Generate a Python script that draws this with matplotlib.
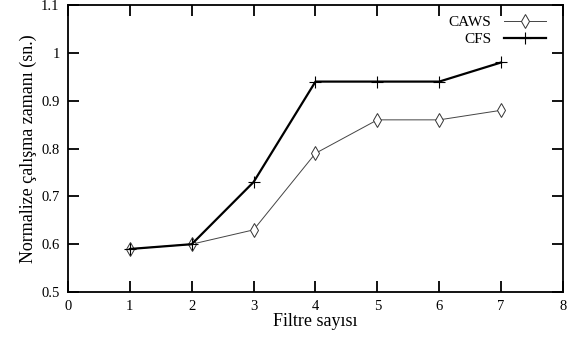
import matplotlib.pyplot as plt

filtre = [1, 2, 3, 4, 5, 6, 7]
caws = [0.59, 0.60, 0.63, 0.79, 0.86, 0.86, 0.88]
cfs = [0.59, 0.60, 0.73, 0.94, 0.94, 0.94, 0.98]

plt.rcParams['font.family'] = ['Liberation Serif', 'DejaVu Serif']

fig = plt.figure(figsize=(5.71, 3.38), dpi=100)
ax = fig.add_axes([0.119, 0.136, 0.867, 0.849])

ax.plot(filtre, caws, color="#444444", linewidth=0.7, marker="d",
        markersize=7, markerfacecolor="white", markeredgecolor="#333333",
        markeredgewidth=0.7, label="CAWS")
ax.plot(filtre, cfs, color="black", linewidth=1.6, marker="+",
        markersize=9, markeredgewidth=0.8, label="CFS")

ax.set_xlim(0, 8)
ax.set_ylim(0.5, 1.1)
ax.set_xticks(range(0, 9))
ax.set_yticks([0.5, 0.6, 0.7, 0.8, 0.9, 1.0, 1.1])
ax.set_yticklabels(["0.5", "0.6", "0.7", "0.8", "0.9", "1", "1.1"])
ax.tick_params(direction="in", length=8, width=1.3, top=True, right=True,
               labelsize=10.5, pad=6)
for s in ax.spines.values():
    s.set_linewidth(1.3)

ax.set_xlabel("Filtre sayısı", fontsize=13, labelpad=0)
ax.set_ylabel("Normalize çalışma zamanı (sn.)", fontsize=13, labelpad=3)

ax.legend(loc="upper right", bbox_to_anchor=(0.988, 1.0), frameon=False,
          markerfirst=False, fontsize=11, handlelength=2.8,
          borderaxespad=0.3, labelspacing=0.2)

fig.savefig("out.png")
